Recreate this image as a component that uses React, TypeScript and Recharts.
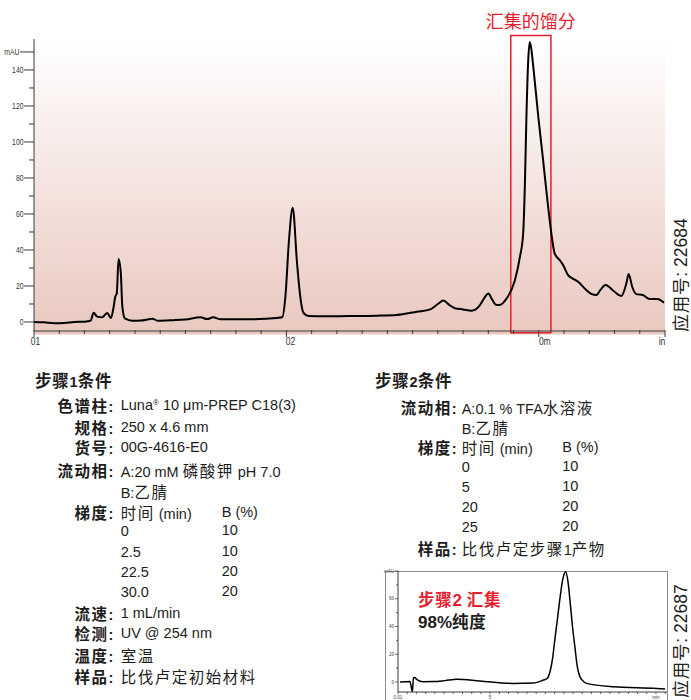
import React from "react";
import { LineChart, Line, XAxis, YAxis, ReferenceArea } from "recharts";

// step 1 prep run, minutes / mAU
const prepTime = [
  10.0, 10.4, 10.8, 11.2, 11.6, 12.0, 12.25, 12.36, 12.5, 12.7, 12.9, 13.05, 13.15, 13.22, 13.28, 13.35,
  13.44, 13.5, 13.6, 13.9, 14.23, 14.7, 14.9, 15.5, 16.0, 16.6, 16.86, 17.1, 17.4, 18.6, 19.2, 19.83,
  19.96, 20.1, 20.25, 20.42, 20.55, 20.68, 20.88, 21.5, 22.5, 23.58, 24.37, 25.17, 25.7, 26.0, 26.22,
  26.45, 26.68, 27.0, 27.34, 27.67, 27.85, 28.0, 28.15, 28.3, 28.45, 28.72, 29.05, 29.25, 29.38, 29.45,
  29.51, 29.58, 29.64, 29.7, 29.78, 29.98, 30.17, 30.37, 30.5, 30.63, 30.83, 30.96, 31.16, 31.36, 31.55,
  31.88, 32.1, 32.28, 32.45, 32.64, 33.0, 33.27, 33.47, 33.56, 33.7, 33.86, 34.12, 34.39, 34.7, 34.96,
];
const prepAbs = [
  0, -0.2, -0.7, -0.5, 0, 0.2, 0.8, 5.2, 3, 2.6, 5, 2.2, 8, 14, 16, 35,
  27, 8.5, 2, 0.7, 0.8, 1.8, 0.7, 1, 1.4, 2.6, 1.6, 2.6, 1.5, 1.5, 1.8, 2.6,
  14, 45, 63.5, 33, 14, 5, 3.3, 3.2, 3.3, 3.5, 3.9, 5.7, 7, 10, 11.9,
  9.5, 7.6, 7, 6.3, 9.4, 13.5, 15.8, 12.5, 9.6, 9.5, 13, 23, 36, 49, 77,
  114, 145, 155.5, 152, 142, 114, 90, 64, 49, 38, 34.4, 31.7, 26, 24, 22.4,
  17.8, 15.5, 15, 18, 20.5, 16.8, 14.4, 21.5, 26.7, 19.6, 15.5, 15, 12.8, 12.8, 10.7,
];

// step 2 purity check (inset)
const pureTime = [
  0.11, 0.65, 0.78, 0.84, 0.92, 1.01, 1.37, 1.92, 2.55, 3.19, 4.45, 6.26, 7.34, 7.89, 8.09, 8.25, 8.39,
  8.52, 8.66, 8.79, 8.96, 9.1, 9.23, 9.34, 9.47, 9.61, 9.72, 9.84, 9.99, 10.24, 11.69, 14.04, 14.5,
];
const pureAbs = [
  0, 0.3, -7, 3.1, 3.2, 1.9, 0.2, 0.3, 1.0, 1.9, 0.7, -1, -0.7, 1.4, 2.5, 7.4, 17,
  31.5, 46, 60.3, 75, 79.5, 72, 58, 40, 24.3, 12, 5, 1.5, -1, -3.4, -4.6, -5,
];

const prepXTicks = [10, 11, 12, 13, 14, 15, 16, 17, 18, 19, 20, 21, 22, 23, 24, 25, 26, 27, 28, 29, 30, 31, 32, 33, 34, 35];
const prepXLabels: Record<number, string> = { 10: "01", 20: "02", 30: "0m", 35: "in" };
const prepYTicks = [0, 10, 20, 30, 40, 50, 60, 70, 80, 90, 100, 110, 120, 130, 140, 150];
const prepYLabels: Record<number, string> = { 0: "0", 20: "20", 40: "40", 60: "60", 80: "80", 100: "100", 120: "120", 140: "140", 150: "mAU" };

const pureXTicks = Array.from({ length: 30 }, (_, i) => i * 0.5);
const pureXLabels: Record<number, string> = { 0: "0.01", 5: "5", 14: "min" };
const pureYTicks = [0, 10, 20, 30, 40, 50, 60, 70, 80];
const pureYLabels: Record<number, string> = { 0: "0", 20: "20", 40: "40", 60: "60", 80: "mAU" };

const collected = [28.89, 30.48];

const prepData = prepTime.map((t, i) => ({ t, v: prepAbs[i] }));
const pureData = pureTime.map((t, i) => ({ t, v: pureAbs[i] }));

const RED = "#e5202e";
const INK = "#1d1d1b";
const AXIS = "#3a3a3a";
const TICKFONT = "'Liberation Sans', Arial, sans-serif";
const BODYFONT = "'Liberation Sans', Arial, 'Noto Sans CJK SC', sans-serif";

// labels in the source are a condensed face, squeeze them horizontally
const PrepYTick = (props: any) => {
  const { x, y, payload } = props;
  const v = payload.value;
  const label = prepYLabels[v];
  const len = v === 150 ? 14 : label ? 10 : 5;
  return (
    <g>
      <line x1={x - len} x2={x} y1={y} y2={y} stroke={AXIS} strokeWidth={1} />
      {label && (
        <text
          transform={`translate(${x - len - 0.5},${y + 3.4}) scale(0.72,1)`}
          textAnchor="end"
          fontSize={9.5}
          fill="#333"
          fontFamily={TICKFONT}
        >
          {label}
        </text>
      )}
    </g>
  );
};

const PrepXTick = (props: any) => {
  const { x, y, payload } = props;
  const v = payload.value;
  const label = prepXLabels[v];
  const shift: Record<number, number> = { 10: 1.5, 20: 4, 30: 6, 35: -3 };
  return (
    <g>
      <line x1={x} x2={x} y1={y - 1} y2={y + (label ? 6 : 3)} stroke={AXIS} strokeWidth={1} />
      {label && (
        <text
          transform={`translate(${x + shift[v]},${y + 14}) scale(0.85,1)`}
          textAnchor="middle"
          fontSize={10}
          fill="#333"
          fontFamily={TICKFONT}
        >
          {label}
        </text>
      )}
    </g>
  );
};

const PureYTick = (props: any) => {
  const { x, y, payload } = props;
  const label = pureYLabels[payload.value];
  const len = label ? 3 : 2;
  return (
    <g>
      <line x1={x - len} x2={x} y1={y} y2={y} stroke={AXIS} strokeWidth={0.8} />
      {label && (
        <text x={x - 4} y={y} dy={1.5} textAnchor="end" fontSize={4.5} fill="#444" fontFamily={TICKFONT}>
          {label}
        </text>
      )}
    </g>
  );
};

const PureXTick = (props: any) => {
  const { x, y, payload } = props;
  const label = pureXLabels[payload.value];
  return (
    <g>
      <line x1={x} x2={x} y1={y} y2={y + 2} stroke={AXIS} strokeWidth={0.8} />
      {label && (
        <text x={x} y={y + 6.5} textAnchor="middle" fontSize={4.5} fill="#444" fontFamily={TICKFONT}>
          {label}
        </text>
      )}
    </g>
  );
};

const CJK = /([\u2E80-\u9FFF\uFF00-\uFFEF]+)/;
const Txt = ({ s, size = 15.5, gap = 1.5 }: { s: string; size?: number; gap?: number }) => (
  <>
    {s.split(CJK).map((part, i) =>
      CJK.test(part) ? (
        <span key={i} style={{ fontFamily: "'Noto Sans CJK SC', sans-serif", fontSize: size, letterSpacing: gap }}>
          {part}
        </span>
      ) : (
        <span key={i}>{part}</span>
      )
    )}
  </>
);

const Line1 = ({ x, cy, right, bold, children }: any) => (
  <div
    style={{
      position: "absolute",
      top: cy - 9,
      ...(right ? { right: 691 - x, textAlign: "right" } : { left: x }),
      lineHeight: "18px",
      height: 18,
      whiteSpace: "nowrap",
      fontWeight: bold ? 700 : 400,
    }}
  >
    {children}
  </div>
);

// condition tables
const step1Specs: [string, string, number][] = [
  ["规格:", "250 x 4.6 mm", 426.7],
  ["货号:", "00G-4616-E0", 447.3],
  ["流动相:", "A:20 mM 磷酸钾 pH 7.0", 469.5],
  ["", "B:乙腈", 490.5],
  ["梯度:", "时间 (min)", 511.5],
];
const step1Grad: [string, string, number][] = [
  ["0", "10", 531],
  ["2.5", "10", 551.5],
  ["22.5", "20", 571.5],
  ["30.0", "20", 592],
];
const step1Tail: [string, string, number][] = [
  ["流速:", "1 mL/min", 612.7],
  ["检测:", "UV @ 254 nm", 633.3],
  ["温度:", "室温", 655],
  ["样品:", "比伐卢定初始材料", 676],
];
const step2Specs: [string, string, number][] = [
  ["流动相:", "A:0.1 % TFA水溶液", 406.7],
  ["", "B:乙腈", 426.7],
  ["梯度:", "时间 (min)", 447.3],
];
const step2Grad: [string, string, number][] = [
  ["0", "10", 467.3],
  ["5", "10", 487],
  ["20", "20", 507],
  ["25", "20", 527],
];
const step2Tail: [string, string, number][] = [["样品:", "比伐卢定步骤1产物", 548.3]];

const Block = ({ title, titleX, labelX, valX, colX, rows, grad, tail, first }: any) => (
  <>
    <Line1 x={titleX} cy={380} bold>
      <Txt s={title} size={16.5} gap={0.8} />
    </Line1>
    {first}
    {[...rows, ...tail].map(([l, v, cy]: [string, string, number]) => (
      <React.Fragment key={cy}>
        {l && (
          <Line1 x={labelX} cy={cy} right bold>
            <Txt s={l} />
          </Line1>
        )}
        <Line1 x={valX} cy={cy}>
          <Txt s={v} />
        </Line1>
      </React.Fragment>
    ))}
    <Line1 x={colX} cy={rows[rows.length - 1][2]}>
      B (%)
    </Line1>
    {grad.map(([a, b, cy]: [string, string, number]) => (
      <React.Fragment key={"g" + cy}>
        <Line1 x={valX} cy={cy}>{a}</Line1>
        <Line1 x={colX} cy={cy - 1}>{b}</Line1>
      </React.Fragment>
    ))}
  </>
);

const Vertical = ({ cx, cy, s }: { cx: number; cy: number; s: string }) => (
  <div
    style={{
      position: "absolute",
      left: cx,
      top: cy,
      transform: "translate(-50%, -50%) rotate(-90deg)",
      whiteSpace: "nowrap",
      fontSize: 17.5,
      lineHeight: "18px",
    }}
  >
    <Txt s={s} size={17.5} gap={0.8} />
  </div>
);

export default function App() {
  return (
    <div
      style={{
        position: "absolute",
        left: 0,
        top: 0,
        width: 691,
        height: 700,
        overflow: "hidden",
        background: "#fff",
        fontFamily: BODYFONT,
        fontSize: 14.5,
        color: INK,
      }}
    >
      <div style={{ position: "absolute", left: 0, top: 0 }}>
        <LineChart
          width={691}
          height={351}
          data={prepData}
          margin={{ top: 39, right: 26, bottom: 0, left: 0 }}
          style={{ fontFamily: "'Noto Sans CJK SC', 'Liberation Sans', sans-serif" }}
        >
          <defs>
            <linearGradient id="prepBg" x1="0" y1="0" x2="0" y2="1">
              <stop offset="0" stopColor="#ffffff" />
              <stop offset="1" stopColor="#e9c8bf" />
            </linearGradient>
          </defs>
          <ReferenceArea x1={10} x2={35} y1={-7} y2={157.2} fill="url(#prepBg)" fillOpacity={1} stroke="none" ifOverflow="visible" />
          <XAxis
            dataKey="t"
            type="number"
            domain={[10, 35]}
            ticks={prepXTicks}
            interval={0}
            allowDataOverflow
            height={20}
            tickSize={0}
            tickMargin={0}
            tickLine={false}
            axisLine={{ stroke: AXIS }}
            tick={(p: any) => <PrepXTick {...p} />}
          />
          <YAxis
            type="number"
            domain={[-5, 157.2]}
            ticks={prepYTicks}
            interval={0}
            allowDataOverflow
            width={34}
            tickSize={0}
            tickMargin={0}
            tickLine={false}
            axisLine={{ stroke: AXIS }}
            tick={(p: any) => <PrepYTick {...p} />}
          />
          <Line dataKey="v" type="monotone" stroke="#000" strokeWidth={2} dot={false} isAnimationActive={false} />
          <ReferenceArea
            x1={collected[0]}
            x2={collected[1]}
            y1={-6}
            y2={159.2}
            fill="none"
            stroke={RED}
            strokeWidth={1.5}
            ifOverflow="visible"
            label={{ value: "汇集的馏分", position: "top", offset: 7, fill: RED, fontSize: 18 }}
          />
        </LineChart>
      </div>

      <Vertical cx={680} cy={275} s="应用号: 22684" />

      <Block
        title="步骤1条件"
        titleX={35}
        labelX={113.3}
        valX={120.7}
        colX={221.7}
        rows={step1Specs}
        grad={step1Grad}
        tail={step1Tail}
        first={
          <>
            <Line1 x={113.3} cy={405} right bold>
              <Txt s="色谱柱:" />
            </Line1>
            <Line1 x={120.7} cy={405}>
              Luna<sup style={{ fontSize: 8, verticalAlign: "5px", lineHeight: 0 }}>®</sup> 10 μm-PREP C18(3)
            </Line1>
          </>
        }
      />
      <Block
        title="步骤2条件"
        titleX={375}
        labelX={456.7}
        valX={461.7}
        colX={562.3}
        rows={step2Specs}
        grad={step2Grad}
        tail={step2Tail}
        first={null}
      />

      <div
        style={{
          position: "absolute",
          left: 385,
          top: 571,
          width: 281,
          height: 140,
          borderTop: "1px solid #8c8c8c",
          borderLeft: "1px solid #8c8c8c",
          borderRight: "1px solid #8c8c8c",
        }}
      />
      <div style={{ position: "absolute", left: 370, top: 560 }}>
        <LineChart width={321} height={140} data={pureData} margin={{ top: 11, right: 24, bottom: 0, left: 0 }}>
          <XAxis
            dataKey="t"
            type="number"
            domain={[0, 14.6]}
            ticks={pureXTicks}
            interval={0}
            allowDataOverflow
            height={8}
            tickSize={0}
            tickMargin={0}
            tickLine={false}
            axisLine={{ stroke: AXIS }}
            tick={(p: any) => <PureXTick {...p} />}
          />
          <YAxis
            type="number"
            domain={[-7.2, 80]}
            ticks={pureYTicks}
            interval={0}
            allowDataOverflow
            width={28}
            tickSize={0}
            tickMargin={0}
            tickLine={false}
            axisLine={{ stroke: AXIS }}
            tick={(p: any) => <PureYTick {...p} />}
          />
          <Line dataKey="v" type="monotone" stroke="#000" strokeWidth={1.5} dot={false} isAnimationActive={false} />
        </LineChart>
      </div>
      <div style={{ position: "absolute", left: 418, top: 588, fontWeight: 700, color: RED, fontSize: 17, lineHeight: "22px", whiteSpace: "nowrap" }}>
        <Txt s="步骤2 汇集" size={16.5} gap={0.8} />
      </div>
      <div style={{ position: "absolute", left: 418, top: 610, fontWeight: 700, fontSize: 17, lineHeight: "22px", whiteSpace: "nowrap" }}>
        <Txt s="98%纯度" size={16.5} gap={0.8} />
      </div>

      <Vertical cx={680} cy={641} s="应用号: 22687" />
    </div>
  );
}
